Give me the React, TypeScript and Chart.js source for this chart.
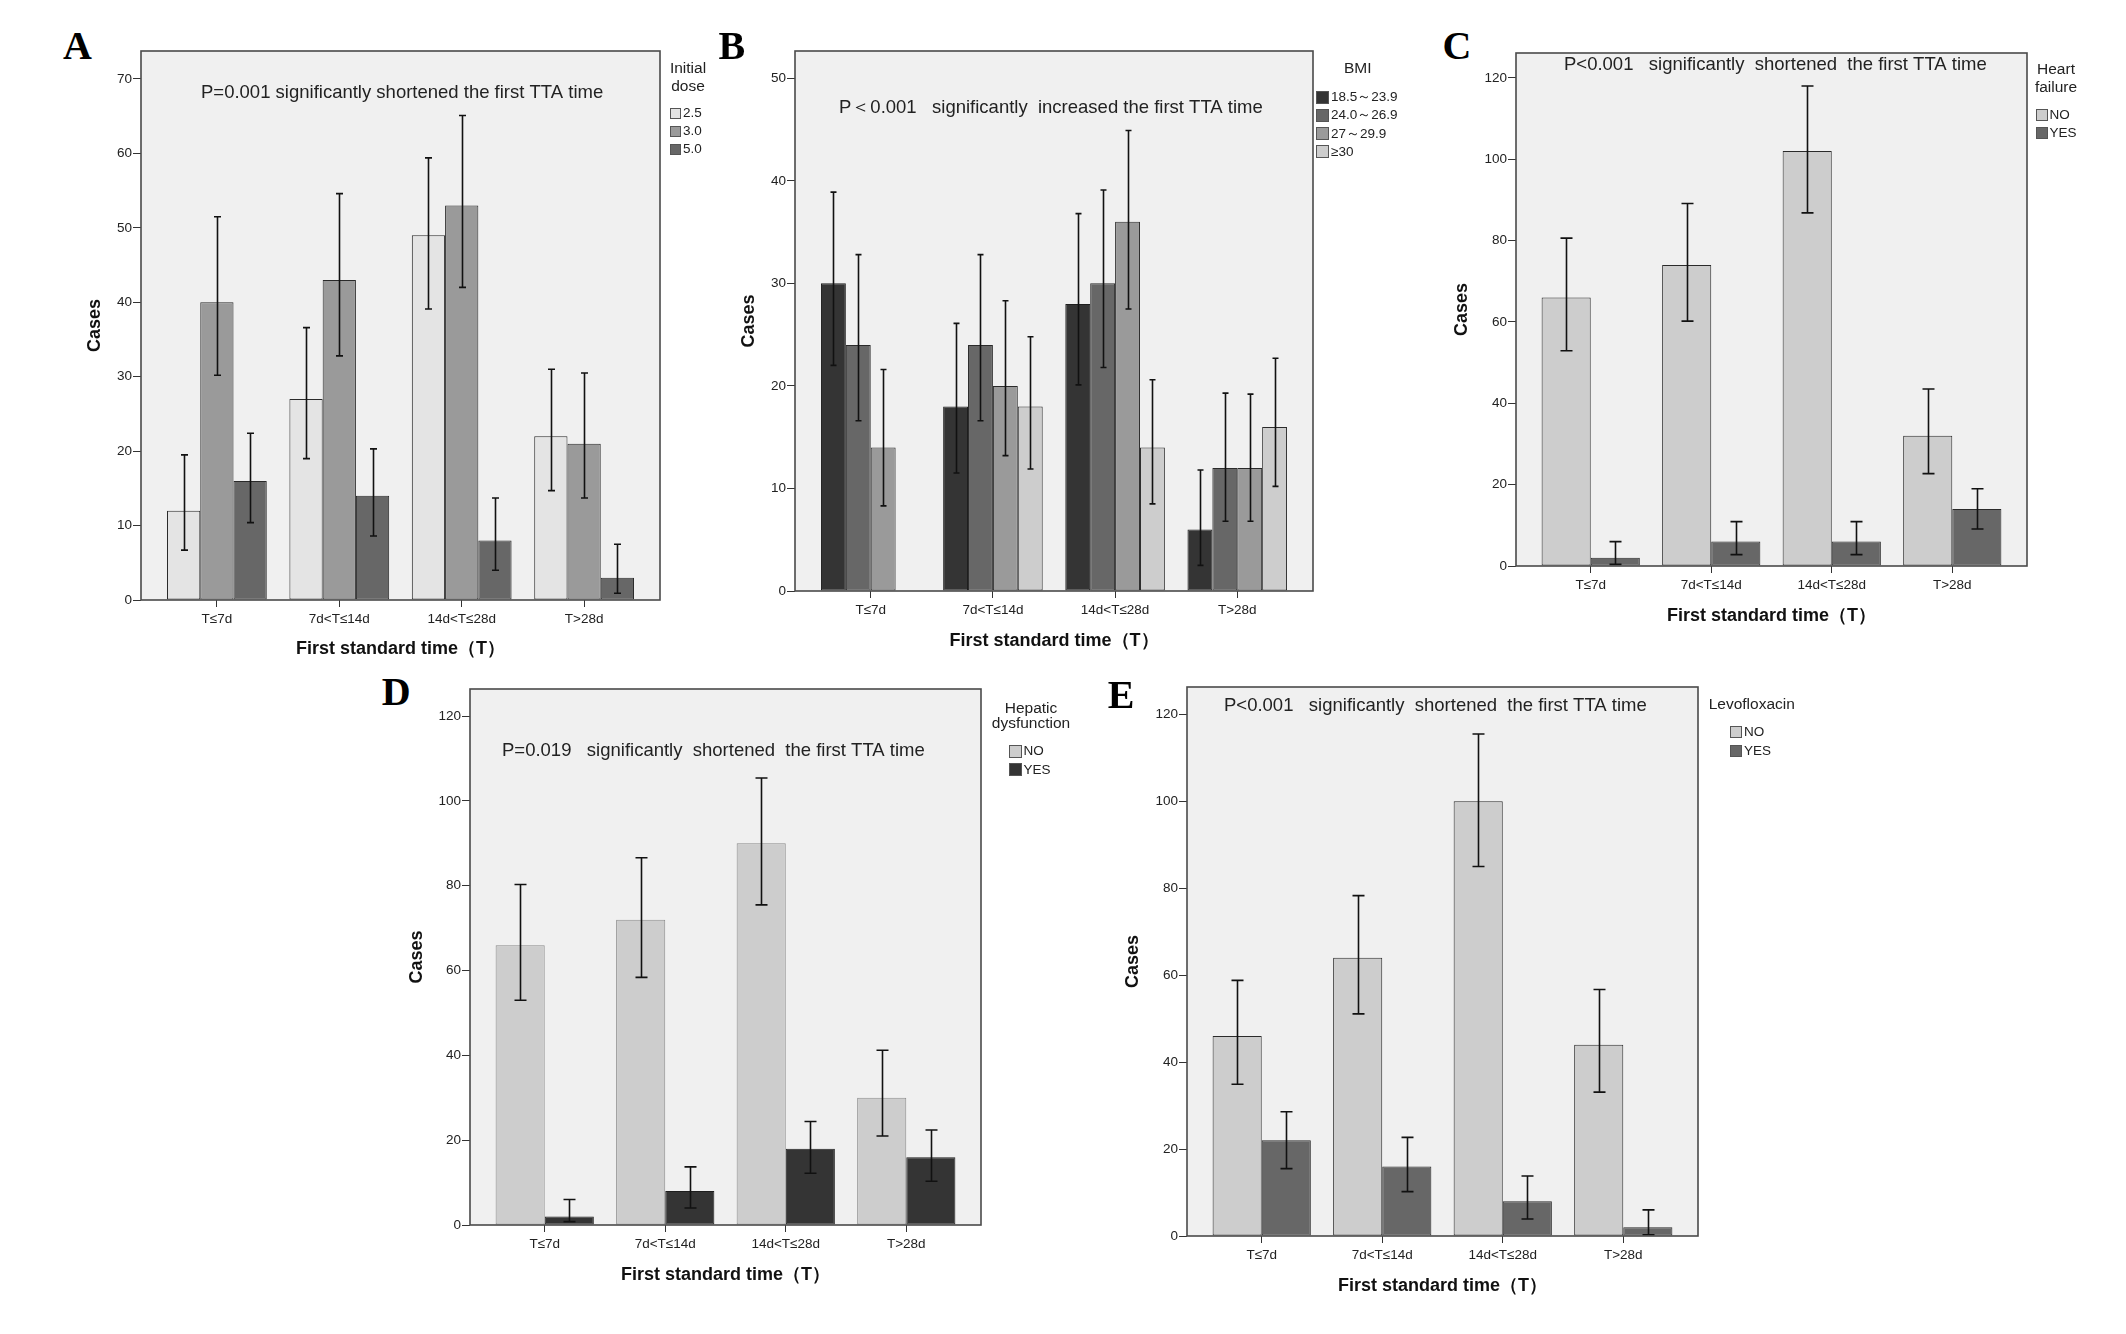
import { useEffect, useRef } from "react"
import { Chart, registerables } from "chart.js"

Chart.register(...registerables)

Chart.defaults.font.family = "'Liberation Sans', Arial, sans-serif"
Chart.defaults.color = "#222"

// Categories shared by all five panels
const timeLabels = ["T≤7d", "7d<T≤14d", "14d<T≤28d", "T>28d"]

// A: initial dose
const doseNames = ["2.5", "3.0", "5.0"]
const dose25 = [12, 27, 49, 22]
const dose25Low = [6.7, 19.0, 39.1, 14.7]
const dose25High = [19.5, 36.6, 59.4, 31.0]
const dose30 = [40, 43, 53, 21]
const dose30Low = [30.2, 32.8, 42.0, 13.7]
const dose30High = [51.5, 54.6, 65.1, 30.5]
const dose50 = [16, 14, 8, 3]
const dose50Low = [10.4, 8.6, 4.0, 0.9]
const dose50High = [22.4, 20.3, 13.7, 7.5]

// B: BMI
const bmiNames = ["18.5～23.9", "24.0～26.9", "27～29.9", "≥30"]
const bmi1 = [30, 18, 28, 6]
const bmi1Low = [22.0, 11.5, 20.1, 2.5]
const bmi1High = [38.9, 26.1, 36.8, 11.8]
const bmi2 = [24, 24, 30, 12]
const bmi2Low = [16.6, 16.6, 21.8, 6.8]
const bmi2High = [32.8, 32.8, 39.1, 19.3]
const bmi3 = [14, 20, 36, 12]
const bmi3Low = [8.3, 13.2, 27.5, 6.8]
const bmi3High = [21.6, 28.3, 44.9, 19.2]
const bmi4 = [0, 18, 14, 16]
const bmi4Low = [null, 11.9, 8.5, 10.2]
const bmi4High = [null, 24.8, 20.6, 22.7]

// C: heart failure
const heartNo = [66, 74, 102, 32]
const heartNoLow = [52.9, 60.2, 86.8, 22.7]
const heartNoHigh = [80.6, 89.1, 118.0, 43.5]
const heartYes = [2, 6, 6, 14]
const heartYesLow = [0.4, 2.8, 2.8, 9.1]
const heartYesHigh = [6.0, 10.9, 10.9, 19.0]

// D: hepatic dysfunction
const hepNo = [66, 72, 90, 30]
const hepNoLow = [53.0, 58.4, 75.5, 21.0]
const hepNoHigh = [80.3, 86.6, 105.4, 41.2]
const hepYes = [2, 8, 18, 16]
const hepYesLow = [0.8, 4.0, 12.2, 10.3]
const hepYesHigh = [6.0, 13.7, 24.4, 22.4]

// E: levofloxacin
const levoNo = [46, 64, 100, 44]
const levoNoLow = [34.9, 51.1, 85.0, 33.1]
const levoNoHigh = [58.8, 78.3, 115.5, 56.7]
const levoYes = [22, 16, 8, 2]
const levoYesLow = [15.5, 10.2, 3.9, 0.3]
const levoYesHigh = [28.6, 22.7, 13.8, 6.0]

const yesNo = ["NO", "YES"]

const PAD_T = 20
const PAD_R = 10

type Series = {
  name: string
  values: number[]
  low: (number | null)[]
  high: (number | null)[]
  color: string
  border: string
}

type PanelCfg = {
  letter: string
  letterPos: [number, number]
  frame: { l: number; t: number; r: number; b: number }
  yMax: number
  yStep: number
  yW: number
  xH: number
  cap: number
  note: string
  noteDx: number
  noteDy: number
  series: Series[]
  legendTitle: string[]
  legendTitleX: number
  legendTitleY: number
  legendTitleGap: number
  legendX: number
  legendY: number
  legendGap: number
  legendBox: number
}

const mk = (names: string[], vals: number[][], lows: (number | null)[][], highs: (number | null)[][], colors: string[], borders: string[]): Series[] =>
  names.map((name, i) => ({ name, values: vals[i], low: lows[i], high: highs[i], color: colors[i], border: borders[i] }))

const panels: PanelCfg[] = [
  {
    letter: "A",
    letterPos: [63, 32.5],
    frame: { l: 141.4, t: 51, r: 660, b: 600 },
    yMax: 73.76,
    yStep: 10,
    yW: 57,
    xH: 60,
    cap: 7,
    note: "P=0.001 significantly shortened the first TTA time",
    noteDx: 60,
    noteDy: 42,
    series: mk(doseNames, [dose25, dose30, dose50], [dose25Low, dose30Low, dose50Low], [dose25High, dose30High, dose50High],
      ["#e4e4e4", "#9a9a9a", "#676767"], ["#2a2a2a", "#2a2a2a", "#2a2a2a"]),
    legendTitle: ["Initial", "dose"],
    legendTitleX: 688,
    legendTitleY: 68,
    legendTitleGap: 17.7,
    legendX: 670,
    legendY: 113,
    legendGap: 18,
    legendBox: 11,
  },
  {
    letter: "B",
    letterPos: [718.4, 32.5],
    frame: { l: 795, t: 50.7, r: 1313, b: 590.6 },
    yMax: 52.66,
    yStep: 10,
    yW: 57,
    xH: 61,
    cap: 6,
    note: "P＜0.001   significantly  increased the first TTA time",
    noteDx: 44,
    noteDy: 57,
    series: mk(bmiNames, [bmi1, bmi2, bmi3, bmi4], [bmi1Low, bmi2Low, bmi3Low, bmi4Low], [bmi1High, bmi2High, bmi3High, bmi4High],
      ["#343434", "#676767", "#9a9a9a", "#cdcdcd"], ["#1e1e1e", "#2a2a2a", "#2a2a2a", "#2a2a2a"]),
    legendTitle: ["BMI"],
    legendTitleX: 1357.7,
    legendTitleY: 68,
    legendTitleGap: 17.7,
    legendX: 1316,
    legendY: 97,
    legendGap: 18.3,
    legendBox: 13,
  },
  {
    letter: "C",
    letterPos: [1442.5, 32.5],
    frame: { l: 1516, t: 53, r: 2026.5, b: 566.3 },
    yMax: 126.1,
    yStep: 20,
    yW: 65,
    xH: 61,
    cap: 12,
    note: "P<0.001   significantly  shortened  the first TTA time",
    noteDx: 48,
    noteDy: 12,
    series: mk(yesNo, [heartNo, heartYes], [heartNoLow, heartYesLow], [heartNoHigh, heartYesHigh],
      ["#cdcdcd", "#676767"], ["#2a2a2a", "#2a2a2a"]),
    legendTitle: ["Heart", "failure"],
    legendTitleX: 2056,
    legendTitleY: 69.4,
    legendTitleGap: 17.3,
    legendX: 2035.5,
    legendY: 115,
    legendGap: 18,
    legendBox: 12,
  },
  {
    letter: "D",
    letterPos: [381.8, 679.3],
    frame: { l: 469.5, t: 689.3, r: 980.7, b: 1225 },
    yMax: 126.4,
    yStep: 20,
    yW: 64,
    xH: 61,
    cap: 12,
    note: "P=0.019   significantly  shortened  the first TTA time",
    noteDx: 32,
    noteDy: 62,
    series: mk(yesNo, [hepNo, hepYes], [hepNoLow, hepYesLow], [hepNoHigh, hepYesHigh],
      ["#cdcdcd", "#343434"], ["#8a8a8a", "#1e1e1e"]),
    legendTitle: ["Hepatic", "dysfunction"],
    legendTitleX: 1031,
    legendTitleY: 707.7,
    legendTitleGap: 15.3,
    legendX: 1009,
    legendY: 751.3,
    legendGap: 18.4,
    legendBox: 12.5,
  },
  {
    letter: "E",
    letterPos: [1107.7, 681.7],
    frame: { l: 1187.3, t: 686.7, r: 1698.6, b: 1236 },
    yMax: 126.3,
    yStep: 20,
    yW: 65,
    xH: 61,
    cap: 12,
    note: "P<0.001   significantly  shortened  the first TTA time",
    noteDx: 37,
    noteDy: 19,
    series: mk(yesNo, [levoNo, levoYes], [levoNoLow, levoYesLow], [levoNoHigh, levoYesHigh],
      ["#cdcdcd", "#676767"], ["#2a2a2a", "#2a2a2a"]),
    legendTitle: ["Levofloxacin"],
    legendTitleX: 1751.8,
    legendTitleY: 703.9,
    legendTitleGap: 17,
    legendX: 1730,
    legendY: 731.8,
    legendGap: 18.9,
    legendBox: 12,
  },
]

// Plot background, error bars, frame and the in-plot note
const framePlugin = {
  id: "frame",
  beforeDraw(chart: any) {
    const { ctx, chartArea: a } = chart
    ctx.save()
    ctx.fillStyle = "#f0f0f0"
    ctx.fillRect(a.left, a.top, a.right - a.left, a.bottom - a.top)
    ctx.restore()
  },
  afterDatasetsDraw(chart: any, _args: any, opts: any) {
    const { ctx, chartArea: a } = chart
    const yScale = chart.scales.y
    ctx.save()
    ctx.strokeStyle = "#111"
    ctx.lineWidth = 1.6
    chart.data.datasets.forEach((ds: any, di: number) => {
      const meta = chart.getDatasetMeta(di)
      meta.data.forEach((bar: any, j: number) => {
        const lo = ds.low[j]
        const hi = ds.high[j]
        if (lo == null || hi == null) return
        const x = Math.round(bar.x) + 0.5
        const y1 = yScale.getPixelForValue(hi)
        const y2 = yScale.getPixelForValue(lo)
        const c = opts.cap / 2
        ctx.beginPath()
        ctx.moveTo(x, y1)
        ctx.lineTo(x, y2)
        ctx.moveTo(x - c, y1)
        ctx.lineTo(x + c, y1)
        ctx.moveTo(x - c, y2)
        ctx.lineTo(x + c, y2)
        ctx.stroke()
      })
    })
    ctx.strokeStyle = "#4a4a4a"
    ctx.lineWidth = 1.6
    ctx.strokeRect(a.left, a.top, a.right - a.left, a.bottom - a.top)
    ctx.fillStyle = "#222"
    ctx.font = "18.5px 'Liberation Sans', Arial, sans-serif"
    ctx.textBaseline = "middle"
    ctx.textAlign = "left"
    ctx.fillText(opts.note, a.left + opts.noteDx, a.top + opts.noteDy)
    ctx.restore()
  },
}

function Panel({ cfg }: { cfg: PanelCfg }) {
  const canvasRef = useRef<HTMLCanvasElement>(null)
  const chartRef = useRef<Chart | null>(null)
  const f = cfg.frame
  const left = f.l - cfg.yW
  const top = f.t - PAD_T
  const width = f.r - f.l + cfg.yW + PAD_R
  const height = f.b - f.t + PAD_T + cfg.xH

  useEffect(() => {
    if (!canvasRef.current) return
    if (chartRef.current) chartRef.current.destroy()

    chartRef.current = new Chart(canvasRef.current, {
      type: "bar",
      data: {
        datasets: cfg.series.map((s) => ({
          label: s.name,
          data: s.values.map((v, i) => ({ x: i, y: v })),
          low: s.low,
          high: s.high,
          backgroundColor: s.color,
          borderColor: s.border,
          borderWidth: 1,
          borderSkipped: false,
          categoryPercentage: 0.815,
          barPercentage: 1,
        })) as any,
      },
      options: {
        responsive: false,
        animation: false,
        layout: { padding: { top: PAD_T, right: PAD_R, left: 0, bottom: 0 } },
        plugins: {
          legend: { display: false },
          tooltip: { enabled: false },
          frame: { note: cfg.note, noteDx: cfg.noteDx, noteDy: cfg.noteDy, cap: cfg.cap },
        } as any,
        scales: {
          x: {
            type: "linear",
            min: -0.62,
            max: 3.62,
            offset: false,
            afterBuildTicks: (scale: any) => {
              scale.ticks = timeLabels.map((_, i) => ({ value: i }))
            },
            afterFit: (scale: any) => {
              scale.height = cfg.xH
            },
            ticks: {
              callback: (v: any) => timeLabels[v],
              font: { size: 13.5 },
              color: "#222",
              padding: 4,
              autoSkip: false,
              maxRotation: 0,
            },
            grid: { offset: false, drawOnChartArea: false, drawTicks: true, tickLength: 7, color: "#333" },
            border: { display: false },
            title: {
              display: true,
              text: "First standard time（T）",
              font: { size: 18, weight: "bold" },
              color: "#111",
              padding: 0,
            },
          },
          y: {
            min: 0,
            max: cfg.yMax,
            afterFit: (scale: any) => {
              scale.width = cfg.yW
            },
            ticks: { stepSize: cfg.yStep, includeBounds: false, font: { size: 13.5 }, color: "#222", padding: 1 },
            grid: { drawOnChartArea: false, drawTicks: true, tickLength: 8, color: "#333" },
            border: { display: false },
            title: {
              display: true,
              text: "Cases",
              font: { size: 18, weight: "bold" },
              color: "#111",
              padding: 0,
            },
          },
        } as any,
      },
      plugins: [framePlugin],
    })

    return () => {
      if (chartRef.current) {
        chartRef.current.destroy()
        chartRef.current = null
      }
    }
  }, [cfg])

  return (
    <canvas
      ref={canvasRef}
      width={Math.round(width)}
      height={Math.round(height)}
      style={{ position: "absolute", left, top, width: Math.round(width), height: Math.round(height) }}
    />
  )
}

function Legend({ cfg }: { cfg: PanelCfg }) {
  const titleLh = 18
  const itemLh = 16
  return (
    <>
      {cfg.legendTitle.map((t, i) => (
        <div
          key={"t" + i}
          style={{
            position: "absolute",
            left: cfg.legendTitleX - 60,
            width: 120,
            top: cfg.legendTitleY + i * cfg.legendTitleGap - titleLh / 2,
            height: titleLh,
            lineHeight: titleLh + "px",
            fontSize: 15.5,
            textAlign: "center",
            color: "#222",
            whiteSpace: "nowrap",
          }}
        >
          {t}
        </div>
      ))}
      {cfg.series.map((s, i) => {
        const cy = cfg.legendY + i * cfg.legendGap
        return (
          <div key={"s" + i}>
            <div
              style={{
                position: "absolute",
                left: cfg.legendX,
                top: cy - cfg.legendBox / 2,
                width: cfg.legendBox,
                height: cfg.legendBox,
                boxSizing: "border-box",
                background: s.color,
                border: "1px solid #555",
              }}
            />
            <div
              style={{
                position: "absolute",
                left: cfg.legendX + cfg.legendBox + 2,
                top: cy - itemLh / 2,
                height: itemLh,
                lineHeight: itemLh + "px",
                fontSize: 13.5,
                color: "#222",
                whiteSpace: "nowrap",
              }}
            >
              {s.name}
            </div>
          </div>
        )
      })}
    </>
  )
}

export default function App() {
  return (
    <div
      style={{
        position: "absolute",
        left: 0,
        top: 0,
        width: 2126,
        height: 1334,
        background: "#fff",
        fontFamily: "'Liberation Sans', Arial, sans-serif",
        overflow: "hidden",
      }}
    >
      {panels.map((p) => (
        <div key={p.letter}>
          <div
            style={{
              position: "absolute",
              left: p.letterPos[0],
              top: p.letterPos[1] - 7,
              fontFamily: "'Liberation Serif', 'Times New Roman', serif",
              fontWeight: "bold",
              fontSize: 40,
              lineHeight: "40px",
              color: "#000",
            }}
          >
            {p.letter}
          </div>
          <Panel cfg={p} />
          <Legend cfg={p} />
        </div>
      ))}
    </div>
  )
}
